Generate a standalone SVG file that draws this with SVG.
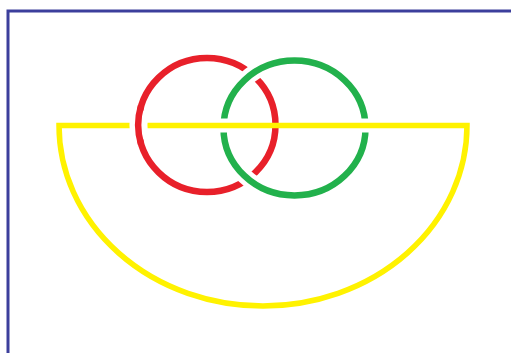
<svg xmlns="http://www.w3.org/2000/svg" width="511" height="353" viewBox="0 0 511 353">
  <style>
    .halo { fill: none; stroke: #ffffff; }
    .red { fill: none; stroke: #e8202a; stroke-width: 6.5; }
    .green { fill: none; stroke: #22b14c; stroke-width: 6.5; }
    .yellow { fill: none; stroke: #fff200; stroke-width: 5.5; stroke-linejoin: miter; }
  </style>
  <rect x="0" y="0" width="511" height="353" fill="#ffffff"/>
  <rect id="frame" x="8" y="11" width="530" height="370" fill="none" stroke="#3c3f9c" stroke-width="3"/>
  <g id="red-ring">
    <ellipse class="red" cx="207" cy="125" rx="68.5" ry="67"/>
  </g>
  <g id="green-ring">
    <ellipse class="halo" cx="294.5" cy="128" rx="71" ry="67.5" stroke-width="16"/>
    <ellipse class="green" cx="294.5" cy="128" rx="71" ry="67.5"/>
  </g>
  <g id="yellow-bowl">
    <line class="halo" x1="212" y1="125.5" x2="235" y2="125.5" stroke-width="14"/>
    <line class="halo" x1="354" y1="125.5" x2="377" y2="125.5" stroke-width="14"/>
    <path class="yellow" d="M 59 125.5 A 204 180.5 0 0 0 467 125.5 Z"/>
  </g>
  <g id="red-over-yellow">
    <path class="halo" d="M 140.2 110 A 68.5 67 0 0 0 140.2 140" stroke-width="18"/>
    <path class="red" d="M 141 106 A 68.5 67 0 0 0 141 144"/>
  </g>
</svg>
